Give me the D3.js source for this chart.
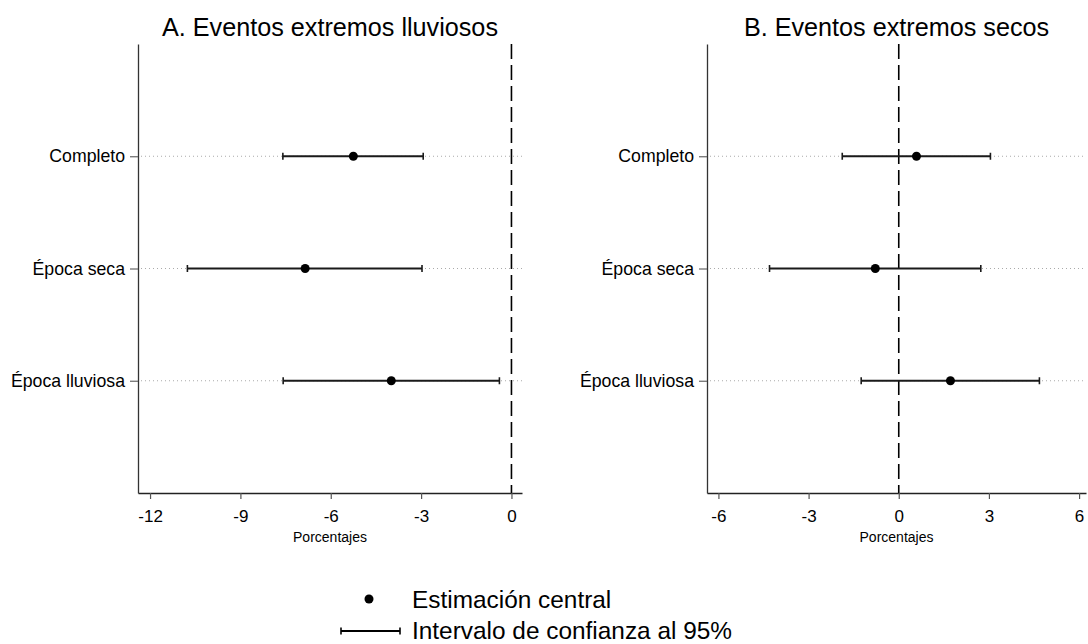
<!DOCTYPE html>
<html>
<head>
<meta charset="utf-8">
<script src="https://cdn.jsdelivr.net/npm/d3@7"></script>
<style>
  html, body { margin: 0; padding: 0; background: #fff; }
  svg { display: block; font-family: "Liberation Sans", Arial, sans-serif; }
</style>
</head>
<body>
<svg id="chart" width="1088" height="644"></svg>
<script>
// ---- data ----
const categories = ["Completo", "Época seca", "Época lluviosa"];
const estA = [-5.25, -6.85, -3.99];
const loA  = [-7.59, -10.76, -7.58];
const hiA  = [-2.93, -2.97, -0.40];
const estB = [0.59, -0.78, 1.72];
const loB  = [-1.88, -4.30, -1.25];
const hiB  = [3.05, 2.73, 4.68];
const ticksA = [-12, -9, -6, -3, 0];
const ticksB = [-6, -3, 0, 3, 6];
const titles = ["A. Eventos extremos lluviosos", "B. Eventos extremos secos"];
const xLabel = "Porcentajes";
const legendLabels = ["Estimación central", "Intervalo de confianza al 95%"];

// ---- layout ----
const FONT = "Liberation Sans, Arial, sans-serif";
const svg = d3.select("#chart");
const yTop = 44, yBot = 493;
const y = d3.scaleLinear().domain([0, 4]).range([yTop, yBot]);

const panels = [
  { title: titles[0], est: estA, lo: loA, hi: hiA, ticks: ticksA,
    domain: [-12.4, 0.35], range: [138, 522] },
  { title: titles[1], est: estB, lo: loB, hi: hiB, ticks: ticksB,
    domain: [-6.38, 6.23], range: [707, 1086] }
];

function txt(parent, x, yy, str, size, anchor) {
  return parent.append("text").attr("x", x).attr("y", yy)
    .attr("text-anchor", anchor || "middle").attr("font-family", FONT)
    .attr("font-size", size).attr("fill", "#000").text(str);
}

panels.forEach(p => {
  const x = d3.scaleLinear().domain(p.domain).range(p.range);
  const g = svg.append("g");
  const cx = (p.range[0] + p.range[1]) / 2;

  // gridlines (dotted)
  g.selectAll(".grid").data(categories).enter().append("line")
    .attr("x1", p.range[0] + 3).attr("x2", p.range[1])
    .attr("y1", (d, i) => y(i + 1)).attr("y2", (d, i) => y(i + 1))
    .attr("stroke", "#aaa").attr("stroke-width", 1)
    .attr("stroke-dasharray", "1,3");

  // zero reference line
  g.append("line")
    .attr("x1", x(0)).attr("x2", x(0)).attr("y1", yTop).attr("y2", yBot)
    .attr("stroke", "#000").attr("stroke-width", 1.6)
    .attr("stroke-dasharray", "15,6");

  // CI lines
  const ci = g.selectAll(".ci").data(categories).enter().append("g");
  ci.append("line")
    .attr("x1", (d, i) => x(p.lo[i])).attr("x2", (d, i) => x(p.hi[i]))
    .attr("y1", (d, i) => y(i + 1)).attr("y2", (d, i) => y(i + 1))
    .attr("stroke", "#1a1a1a").attr("stroke-width", 1.8);
  ci.append("line")
    .attr("x1", (d, i) => x(p.lo[i])).attr("x2", (d, i) => x(p.lo[i]))
    .attr("y1", (d, i) => y(i + 1) - 3.5).attr("y2", (d, i) => y(i + 1) + 3.5)
    .attr("stroke", "#1a1a1a").attr("stroke-width", 1.6);
  ci.append("line")
    .attr("x1", (d, i) => x(p.hi[i])).attr("x2", (d, i) => x(p.hi[i]))
    .attr("y1", (d, i) => y(i + 1) - 3.5).attr("y2", (d, i) => y(i + 1) + 3.5)
    .attr("stroke", "#1a1a1a").attr("stroke-width", 1.6);

  // points
  g.selectAll(".pt").data(categories).enter().append("circle")
    .attr("cx", (d, i) => x(p.est[i])).attr("cy", (d, i) => y(i + 1))
    .attr("r", 4.5).attr("fill", "#000");

  // x axis
  const xa = g.append("g").attr("transform", `translate(0,${yBot})`)
    .call(d3.axisBottom(x).tickValues(p.ticks).tickFormat(d => String(d))
      .tickSize(6).tickSizeOuter(0).tickPadding(11));
  xa.select(".domain").attr("stroke", "#222").attr("stroke-width", 1.3);
  xa.selectAll(".tick line").attr("stroke", "#555").attr("stroke-width", 1.2);
  xa.selectAll(".tick text").attr("font-size", 17).attr("fill", "#000")
    .attr("font-family", FONT);

  // y axis
  const ya = g.append("g").attr("transform", `translate(${p.range[0]},0)`)
    .call(d3.axisLeft(y).tickValues([1, 2, 3]).tickFormat(v => categories[v - 1])
      .tickSize(8).tickSizeOuter(0).tickPadding(5));
  ya.select(".domain").attr("stroke", "#333").attr("stroke-width", 1.3);
  ya.selectAll(".tick line").attr("stroke", "#666").attr("stroke-width", 1.2);
  ya.selectAll(".tick text").attr("font-size", 17.7).attr("fill", "#000")
    .attr("font-family", FONT);

  // axis title
  txt(g, cx, 542, xLabel, 14, "middle");
  // panel title
  txt(g, cx, 36, p.title, 25.2, "middle");
});

// ---- legend ----
const lg = svg.append("g");
lg.append("circle").attr("cx", 369).attr("cy", 599).attr("r", 4.5).attr("fill", "#000");
txt(lg, 412, 608, legendLabels[0], 24.4, "start");
lg.append("line").attr("x1", 341).attr("x2", 400).attr("y1", 631).attr("y2", 631)
  .attr("stroke", "#000").attr("stroke-width", 1.8);
lg.append("line").attr("x1", 341).attr("x2", 341).attr("y1", 627.5).attr("y2", 634.5)
  .attr("stroke", "#000").attr("stroke-width", 1.6);
lg.append("line").attr("x1", 400).attr("x2", 400).attr("y1", 627.5).attr("y2", 634.5)
  .attr("stroke", "#000").attr("stroke-width", 1.6);
txt(lg, 412, 639, legendLabels[1], 24.4, "start");
</script>
</body>
</html>
